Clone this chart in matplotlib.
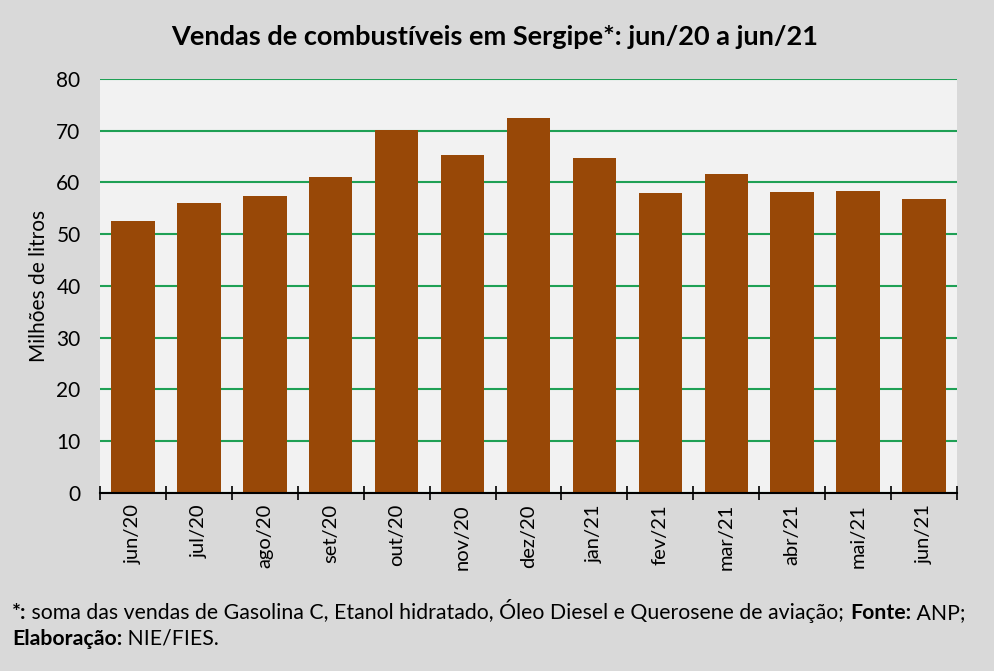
import numpy as np
import matplotlib
matplotlib.use('Agg')
import matplotlib.pyplot as plt

# dados (milhoes de litros)
meses = ['jun/20', 'jul/20', 'ago/20', 'set/20', 'out/20', 'nov/20', 'dez/20',
         'jan/21', 'fev/21', 'mar/21', 'abr/21', 'mai/21', 'jun/21']
vendas = [52.6, 56.0, 57.4, 61.1, 70.2, 65.3, 72.5, 64.7, 58.0, 61.7, 58.2, 58.4, 56.8]

titulo = 'Vendas de combustíveis em Sergipe*: jun/20 a jun/21'
nota1 = [('*:', True),
         (' soma das vendas de Gasolina C, Etanol hidratado, Óleo Diesel e Querosene de aviação; ', False),
         ('Fonte:', True), (' ANP;', False)]
nota2 = [('Elaboração:', True), (' NIE/FIES.', False)]

plt.rcParams['font.family'] = ['Lato', 'DejaVu Sans']

fig = plt.figure(figsize=(9.95, 6.71), dpi=100)
fig.patch.set_facecolor('#d9d9d9')
ax = fig.add_axes([0.1005, 0.2653, 0.8613, 0.617])
ax.set_facecolor('#f2f2f2')

x = np.arange(len(meses))
ax.bar(x, vendas, width=0.66, color='#984807', zorder=3)

ax.set_ylim(0, 80)
ax.set_xlim(-0.5, len(meses) - 0.5)
ax.set_yticks(np.arange(0, 81, 10))
ax.yaxis.grid(True, color='#1fa055', linewidth=1.5, zorder=1)
ax.tick_params(axis='y', length=0, labelsize=15, pad=14)

# ticks nas divisoes entre categorias, rotulos no centro
ax.set_xticks(np.arange(-0.5, len(meses), 1.0))
ax.set_xticklabels([])
ax.set_xticks(x, minor=True)
ax.set_xticklabels(meses, minor=True, rotation=90, fontsize=14.5)
ax.tick_params(axis='x', which='major', direction='inout', length=10, width=1.2)
ax.tick_params(axis='x', which='minor', length=0, pad=8)

for s in ['top', 'right', 'left']:
    ax.spines[s].set_visible(False)
ax.spines['bottom'].set_linewidth(1.5)
ax.spines['bottom'].set_zorder(4)

ax.set_ylabel('Milhões de litros', fontsize=15, labelpad=5)

fig.text(0.4975, 0.945, titulo, ha='center', va='center', fontsize=19.5, fontweight='bold')

# nota de rodape com partes em negrito
renderer = fig.canvas.get_renderer()
def linha(partes, x0, y0):
    xp = x0
    for txt, negrito in partes:
        t = fig.text(xp, y0, txt, fontsize=15.3, va='baseline',
                     fontweight='bold' if negrito else 'normal')
        bb = t.get_window_extent(renderer=renderer)
        xp += bb.width / fig.bbox.width

linha(nota1, 0.012, 0.078)
linha(nota2, 0.012, 0.039)

fig.savefig('out.png', dpi=100, facecolor=fig.get_facecolor())
